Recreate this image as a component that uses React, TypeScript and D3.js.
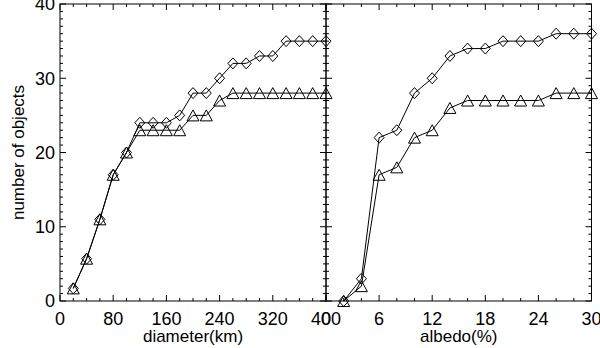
import React from "react";
import * as d3 from "d3";

const diameters = [20, 40, 60, 80, 100, 120, 140, 160, 180, 200, 220, 240, 260, 280, 300, 320, 340, 360, 380, 400];
const diamAll = [1.7, 5.7, 11, 17, 20, 24, 24, 24, 25, 28, 28, 30, 32, 32, 33, 33, 35, 35, 35, 35];
const diamSub = [1.7, 5.7, 11, 17, 20, 23, 23, 23, 23, 25, 25, 27, 28, 28, 28, 28, 28, 28, 28, 28];

const albedos = [2, 4, 6, 8, 10, 12, 14, 16, 18, 20, 22, 24, 26, 28, 30];
const albAll = [0, 3, 22, 23, 28, 30, 33, 34, 34, 35, 35, 35, 36, 36, 36];
const albSub = [0, 2, 17, 18, 22, 23, 26, 27, 27, 27, 27, 27, 28, 28, 28];

const yTicks = [0, 10, 20, 30, 40];
const diamTicks = [0, 80, 160, 240, 320, 400];
const albTicks = [0, 6, 12, 18, 24, 30];

const W = 600, H = 348;
const top = 4, bottom = 301;
const x0 = 60, xm = 326, x1 = 591.5;
const FONT = "'Liberation Sans', Arial, Helvetica, sans-serif";

const y = d3.scaleLinear().domain([0, 40]).range([bottom, top]);
const xl = d3.scaleLinear().domain([0, 400]).range([x0, xm]);
const xr = d3.scaleLinear().domain([0, 30]).range([xm, x1]);

function Diamond({ cx, cy }: { cx: number; cy: number }) {
  const a = 5, b = 5.5;
  return <path d={`M${cx},${cy - b}L${cx + a},${cy}L${cx},${cy + b}L${cx - a},${cy}Z`} fill="none" stroke="#000" strokeWidth={1} />;
}
function Tri({ cx, cy }: { cx: number; cy: number }) {
  const a = 6, b = 5.5;
  return <path d={`M${cx},${cy - b}L${cx + a},${cy + b}L${cx - a},${cy + b}Z`} fill="none" stroke="#000" strokeWidth={1} />;
}

function Series({ xs, ys, xs_, mk }: { xs: number[]; ys: number[]; xs_: d3.ScaleLinear<number, number>; mk: "d" | "t" }) {
  const line = d3.line<number>().x((_, i) => xs_(xs[i])).y((v) => y(v));
  return (
    <g>
      <path d={line(ys) || ""} fill="none" stroke="#000" strokeWidth={1} />
      {ys.map((v, i) =>
        mk === "d" ? <Diamond key={i} cx={xs_(xs[i])} cy={y(v)} /> : <Tri key={i} cx={xs_(xs[i])} cy={y(v)} />
      )}
    </g>
  );
}

function XTicks({ sc, majors, minorStep }: { sc: d3.ScaleLinear<number, number>; majors: number[]; minorStep: number }) {
  const [d0, d1] = sc.domain();
  const minors = d3.range(d0, d1 + 1e-9, minorStep);
  return (
    <g stroke="#000" strokeWidth={1}>
      {minors.map((v, i) => {
        const isMaj = majors.some((m) => Math.abs(m - v) < 1e-9);
        const L = isMaj ? 6 : 3;
        const X = sc(v);
        return (
          <g key={i}>
            <line x1={X} x2={X} y1={bottom} y2={bottom - L} />
            <line x1={X} x2={X} y1={top} y2={top + L} />
          </g>
        );
      })}
    </g>
  );
}

function YTicks({ xPos, dir }: { xPos: number; dir: number }) {
  const minors = d3.range(0, 40.001, 1);
  return (
    <g stroke="#000" strokeWidth={1}>
      {minors.map((v, i) => {
        const L = v % 10 === 0 ? 6 : 3;
        return <line key={i} x1={xPos} x2={xPos + dir * L} y1={y(v)} y2={y(v)} />;
      })}
    </g>
  );
}

export default function App() {
  return (
    <svg width={W} height={H} style={{ position: "absolute", left: 0, top: 0, background: "#fff" }} fontFamily={FONT}>
      <rect x={0} y={0} width={W} height={H} fill="#fff" />
      {/* frames */}
      <rect x={x0} y={top} width={xm - x0} height={bottom - top} fill="none" stroke="#000" strokeWidth={1} />
      <rect x={xm} y={top} width={x1 - xm} height={bottom - top} fill="none" stroke="#000" strokeWidth={1} />
      <XTicks sc={xl} majors={diamTicks} minorStep={20} />
      <XTicks sc={xr} majors={albTicks} minorStep={2} />
      <YTicks xPos={x0} dir={1} />
      <YTicks xPos={xm} dir={-1} />
      <YTicks xPos={xm} dir={1} />
      <YTicks xPos={x1} dir={-1} />

      <Series xs={diameters} ys={diamSub} xs_={xl} mk="t" />
      <Series xs={diameters} ys={diamAll} xs_={xl} mk="d" />
      <Series xs={albedos} ys={albSub} xs_={xr} mk="t" />
      <Series xs={albedos} ys={albAll} xs_={xr} mk="d" />

      {/* tick labels */}
      <g fontSize={18} fill="#000">
        {yTicks.map((v) => (
          <text key={v} x={55} y={y(v)} dy="0.35em" textAnchor="end">{v}</text>
        ))}
        {diamTicks.map((v) => (
          <text key={"d" + v} x={xl(v)} y={325} textAnchor="middle">{v}</text>
        ))}
        {albTicks.map((v) => (
          <text key={"a" + v} x={xr(v)} y={325} textAnchor="middle">{v}</text>
        ))}
      </g>
      <g fontSize={17} fill="#000">
        <text x={(x0 + xm) / 2} y={342} textAnchor="middle">diameter(km)</text>
        <text x={(xm + x1) / 2} y={342} textAnchor="middle">albedo(%)</text>
        <text transform={`translate(24,${(top + bottom) / 2}) rotate(-90)`} textAnchor="middle">number of objects</text>
      </g>
    </svg>
  );
}
